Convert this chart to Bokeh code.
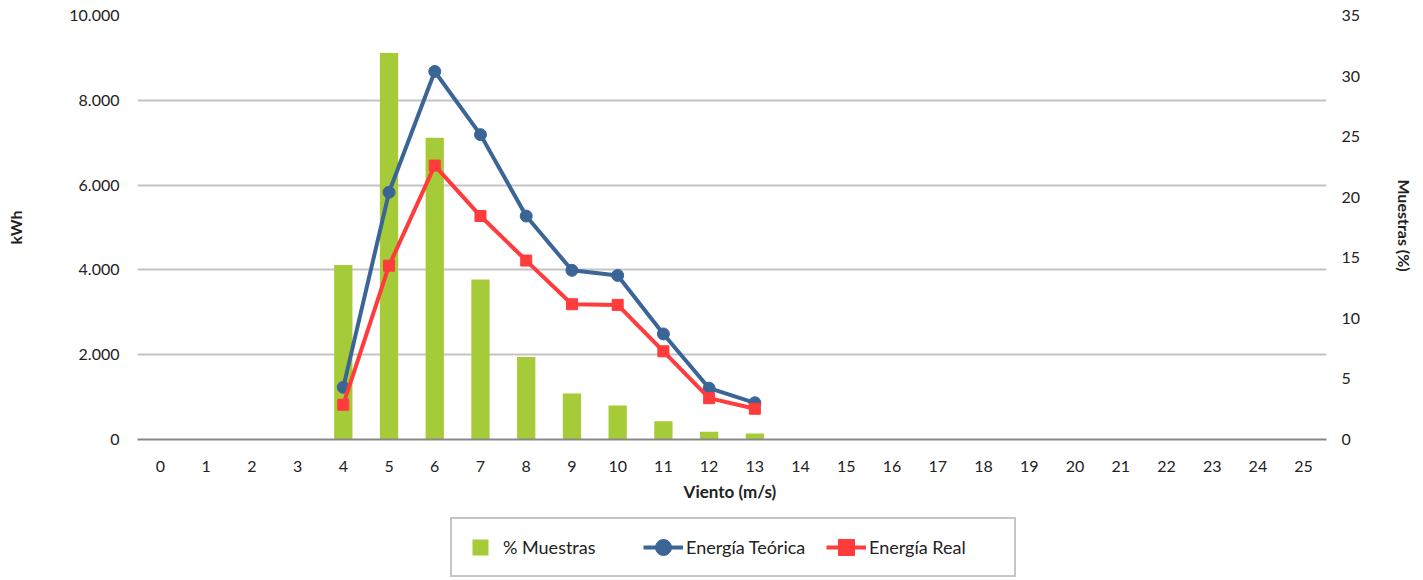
from bokeh.plotting import figure
from bokeh.layouts import column
from bokeh.models import (Range1d, LinearAxis, Legend, LegendItem, FixedTicker,
                          CustomJSTickFormatter)
from bokeh.embed import file_html
from bokeh.resources import INLINE

# ---- data ----
viento = [str(i) for i in range(26)]
muestras_pct = [0, 0, 0, 0, 14.4, 31.9, 24.9, 13.2, 6.8, 3.8, 2.8, 1.5, 0.65, 0.5,
                0, 0, 0, 0, 0, 0, 0, 0, 0, 0, 0, 0]
viento_energia = ["4", "5", "6", "7", "8", "9", "10", "11", "12", "13"]
energia_teorica = [1230, 5830, 8680, 7190, 5270, 3990, 3870, 2490, 1210, 865]
energia_real = [820, 4100, 6460, 5270, 4220, 3190, 3175, 2080, 975, 725]
kwh_ticks = [0, 2000, 4000, 6000, 8000, 10000]
pct_ticks = [0, 5, 10, 15, 20, 25, 30, 35]
series_names = ["% Muestras", "Energía Teórica", "Energía Real"]

GREEN = "#A6CB38"
BLUE = "#3B6597"
RED = "#FF3B3B"
FONT = "Lato"
TXT = "#222222"

p = figure(x_range=viento, y_range=Range1d(0, 10000),
           width=1423, height=510,
           output_backend="svg", toolbar_location=None,
           min_border_left=137, min_border_right=97, min_border_top=15, min_border_bottom=71)
p.outline_line_color = None
p.xgrid.grid_line_color = None
p.ygrid.grid_line_color = "#C4C4C4"
p.ygrid.grid_line_width = 2
p.ygrid.ticker = FixedTicker(ticks=kwh_ticks)

p.extra_y_ranges = {"pct": Range1d(0, 35)}

# left axis
ya = p.yaxis[0]
ya.ticker = FixedTicker(ticks=kwh_ticks)
ya.formatter = CustomJSTickFormatter(
    code="return tick.toString().replace(/\\B(?=(\\d{3})+(?!\\d))/g, '.');")
ya.axis_label = "kWh"
ya.axis_label_standoff = 41
ya.major_label_standoff = 12

# right axis
ra = LinearAxis(y_range_name="pct", ticker=FixedTicker(ticks=pct_ticks),
                axis_label="Muestras  (%)")
ra.axis_label_standoff = 32
ra.major_label_standoff = 9
p.add_layout(ra, "right")

# x axis
xa = p.xaxis[0]
xa.axis_label = "Viento  (m/s)"
xa.major_label_standoff = 15
xa.axis_label_standoff = 6
xa.axis_line_color = "#888888"
xa.axis_line_width = 2

for ax in (ya, ra, xa):
    ax.major_tick_line_color = None
    ax.minor_tick_line_color = None
    ax.major_label_text_font = FONT
    ax.major_label_text_font_size = "16px"
    ax.major_label_text_color = TXT
    ax.axis_label_text_font = FONT
    ax.axis_label_text_font_size = "16px"
    ax.axis_label_text_font_style = "bold"
    ax.axis_label_text_color = TXT
ya.axis_line_color = None
ra.axis_line_color = None
xa.axis_label_text_font_size = "17px"

# bars
p.vbar(x=viento, top=muestras_pct, width=0.4, y_range_name="pct",
       fill_color=GREEN, line_color=None)

# lines
p.line(viento_energia, energia_teorica, line_color=BLUE, line_width=4)
p.scatter(viento_energia, energia_teorica, marker="circle", size=12,
          fill_color=BLUE, line_color=BLUE)
p.line(viento_energia, energia_real, line_color=RED, line_width=4)
p.scatter(viento_energia, energia_real, marker="square", size=11,
          fill_color=RED, line_color=RED)

# ---- legend strip (separate figure below the chart) ----
lg = figure(width=1423, height=70, x_range=Range1d(0, 1), y_range=Range1d(0, 1),
            x_axis_type=None, y_axis_type=None, output_backend="svg",
            toolbar_location=None, min_border=0)
lg.outline_line_color = None
lg.xgrid.grid_line_color = None
lg.ygrid.grid_line_color = None
nan = float("nan")
g_sq = lg.scatter([nan], [nan], marker="square", fill_color=GREEN, line_color=None)
b_l = lg.line([nan], [nan], line_color=BLUE, line_width=4)
b_m = lg.scatter([nan], [nan], marker="circle", fill_color=BLUE, line_color=BLUE)
r_l = lg.line([nan], [nan], line_color=RED, line_width=4)
r_m = lg.scatter([nan], [nan], marker="square", fill_color=RED, line_color=RED)

legend = Legend(items=[
    LegendItem(label=series_names[0], renderers=[g_sq]),
    LegendItem(label=series_names[1], renderers=[b_l, b_m]),
    LegendItem(label=series_names[2], renderers=[r_l, r_m]),
], orientation="horizontal", location=(313, 3),
    glyph_width=40, glyph_height=40, padding=8, spacing=3, label_standoff=3,
    label_width=137, border_line_color="#8C8C8C", border_line_width=2,
    background_fill_color="white", label_text_font=FONT, label_text_font_size="18px",
    label_text_color=TXT, margin=0)
lg.add_layout(legend, "center")

layout = column(p, lg, spacing=0)
open("out.html", "w").write(file_html(layout, INLINE))
